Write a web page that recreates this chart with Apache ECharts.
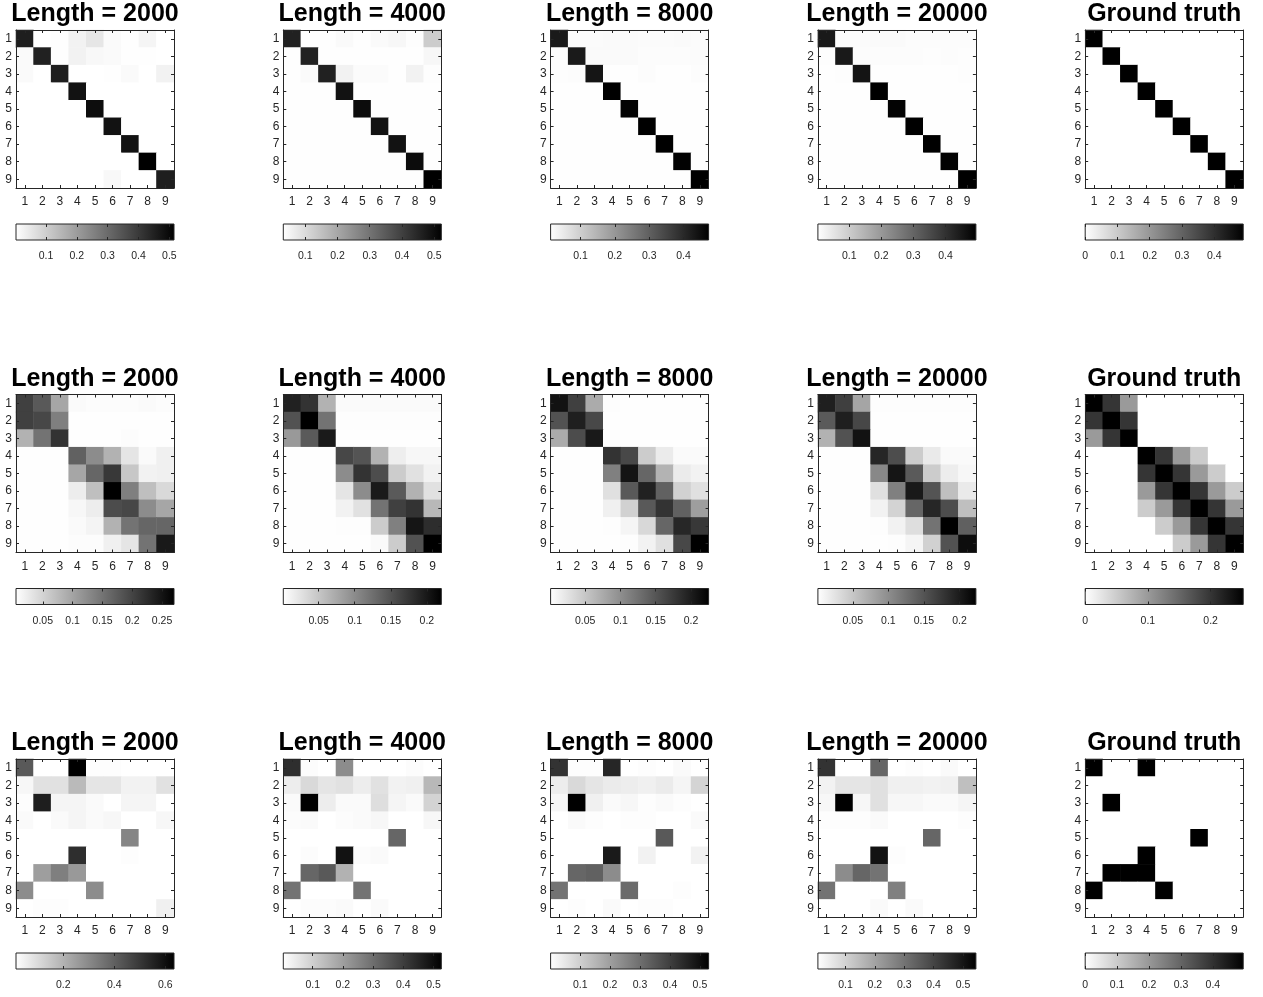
<!DOCTYPE html>
<html>
<head>
<meta charset="utf-8">
<script src="https://cdn.jsdelivr.net/npm/echarts@6/dist/echarts.min.js"></script>
<style>
html,body{margin:0;padding:0;background:#fff;}
#chart{width:1263px;height:997px;}
</style>
</head>
<body>
<div id="chart"></div>
<script>
// ---------- DATA ----------
const cats = ['1','2','3','4','5','6','7','8','9'];
const colTitles = ['Length = 2000', 'Length = 4000', 'Length = 8000', 'Length = 20000', 'Ground truth'];

// colour-bar limits [min, max] for each panel, row by row
const rangesRow1 = [[0.003, 0.515], [0.032, 0.522], [0.013, 0.473], [0.002, 0.495], [0, 0.49]];
const rangesRow2 = [[0.005, 0.27], [0.001, 0.22], [0.001, 0.225], [0.001, 0.223], [0, 0.252]];
const rangesRow3 = [[0.015, 0.634], [0.0025, 0.526], [0.001, 0.529], [0.006, 0.544], [0, 0.495]];

// colour-bar tick labels
const ticksRow1 = [[0.1, 0.2, 0.3, 0.4, 0.5], [0.1, 0.2, 0.3, 0.4, 0.5], [0.1, 0.2, 0.3, 0.4], [0.1, 0.2, 0.3, 0.4], [0, 0.1, 0.2, 0.3, 0.4]];
const ticksRow2 = [[0.05, 0.1, 0.15, 0.2, 0.25], [0.05, 0.1, 0.15, 0.2], [0.05, 0.1, 0.15, 0.2], [0.05, 0.1, 0.15, 0.2], [0, 0.1, 0.2]];
const ticksRow3 = [[0.2, 0.4, 0.6], [0.1, 0.2, 0.3, 0.4, 0.5], [0.1, 0.2, 0.3, 0.4, 0.5], [0.1, 0.2, 0.3, 0.4, 0.5], [0, 0.1, 0.2, 0.3, 0.4]];

// matrices: rows 1..9 (top to bottom), columns 1..9
const r1_len2000 = [
  [0.454, 0.004, 0.005, 0.029, 0.054, 0.013, 0.006, 0.023, 0.004],
  [0.013, 0.448, 0.006, 0.029, 0.018, 0.013, 0.005, 0.005, 0.004],
  [0.013, 0.004, 0.454, 0.004, 0.004, 0.006, 0.013, 0.004, 0.029],
  [0.004, 0.004, 0.004, 0.479, 0.004, 0.004, 0.004, 0.004, 0.004],
  [0.004, 0.004, 0.004, 0.004, 0.489, 0.004, 0.004, 0.004, 0.004],
  [0.004, 0.004, 0.004, 0.004, 0.004, 0.479, 0.004, 0.004, 0.004],
  [0.004, 0.004, 0.004, 0.004, 0.004, 0.004, 0.479, 0.004, 0.004],
  [0.004, 0.004, 0.004, 0.004, 0.004, 0.004, 0.004, 0.515, 0.004],
  [0.004, 0.004, 0.004, 0.004, 0.004, 0.018, 0.004, 0.004, 0.454]
];
const r1_len4000 = [
  [0.458, 0.034, 0.034, 0.042, 0.034, 0.042, 0.047, 0.036, 0.130],
  [0.034, 0.458, 0.034, 0.034, 0.034, 0.034, 0.034, 0.034, 0.047],
  [0.034, 0.042, 0.458, 0.057, 0.040, 0.040, 0.034, 0.057, 0.036],
  [0.033, 0.033, 0.033, 0.488, 0.033, 0.033, 0.033, 0.033, 0.033],
  [0.033, 0.033, 0.033, 0.033, 0.498, 0.033, 0.033, 0.033, 0.033],
  [0.033, 0.033, 0.033, 0.033, 0.033, 0.488, 0.033, 0.033, 0.033],
  [0.033, 0.033, 0.033, 0.033, 0.033, 0.033, 0.488, 0.033, 0.033],
  [0.033, 0.033, 0.033, 0.033, 0.033, 0.033, 0.033, 0.498, 0.033],
  [0.033, 0.033, 0.033, 0.033, 0.033, 0.033, 0.033, 0.033, 0.522]
];
const r1_len8000 = [
  [0.427, 0.020, 0.020, 0.022, 0.022, 0.020, 0.020, 0.022, 0.020],
  [0.016, 0.427, 0.022, 0.022, 0.022, 0.018, 0.018, 0.018, 0.020],
  [0.016, 0.018, 0.436, 0.014, 0.014, 0.018, 0.014, 0.014, 0.018],
  [0.014, 0.014, 0.014, 0.473, 0.014, 0.014, 0.014, 0.014, 0.014],
  [0.014, 0.014, 0.014, 0.014, 0.468, 0.014, 0.014, 0.014, 0.014],
  [0.014, 0.014, 0.014, 0.014, 0.014, 0.473, 0.014, 0.014, 0.014],
  [0.014, 0.014, 0.014, 0.014, 0.014, 0.014, 0.473, 0.014, 0.014],
  [0.014, 0.014, 0.014, 0.014, 0.014, 0.014, 0.014, 0.470, 0.014],
  [0.014, 0.014, 0.014, 0.014, 0.014, 0.014, 0.014, 0.014, 0.473]
];
const r1_len20000 = [
  [0.446, 0.010, 0.010, 0.012, 0.012, 0.007, 0.007, 0.007, 0.007],
  [0.005, 0.446, 0.007, 0.007, 0.007, 0.007, 0.005, 0.007, 0.005],
  [0.003, 0.005, 0.456, 0.003, 0.003, 0.003, 0.003, 0.003, 0.005],
  [0.003, 0.003, 0.003, 0.495, 0.003, 0.003, 0.003, 0.003, 0.003],
  [0.003, 0.003, 0.003, 0.003, 0.490, 0.003, 0.003, 0.003, 0.003],
  [0.003, 0.003, 0.003, 0.003, 0.003, 0.495, 0.003, 0.003, 0.003],
  [0.003, 0.003, 0.003, 0.003, 0.003, 0.003, 0.495, 0.003, 0.003],
  [0.003, 0.003, 0.003, 0.003, 0.003, 0.003, 0.003, 0.492, 0.003],
  [0.003, 0.003, 0.003, 0.003, 0.003, 0.003, 0.003, 0.003, 0.495]
];
const r1_truth = [
  [0.49, 0, 0, 0, 0, 0, 0, 0, 0],
  [0, 0.49, 0, 0, 0, 0, 0, 0, 0],
  [0, 0, 0.49, 0, 0, 0, 0, 0, 0],
  [0, 0, 0, 0.49, 0, 0, 0, 0, 0],
  [0, 0, 0, 0, 0.49, 0, 0, 0, 0],
  [0, 0, 0, 0, 0, 0.49, 0, 0, 0],
  [0, 0, 0, 0, 0, 0, 0.49, 0, 0],
  [0, 0, 0, 0, 0, 0, 0, 0.49, 0],
  [0, 0, 0, 0, 0, 0, 0, 0, 0.49]
];

const r2_len2000 = [
  [0.204, 0.177, 0.098, 0.010, 0.008, 0.008, 0.008, 0.010, 0.008],
  [0.204, 0.196, 0.138, 0.006, 0.006, 0.006, 0.006, 0.006, 0.006],
  [0.085, 0.151, 0.217, 0.006, 0.006, 0.006, 0.008, 0.006, 0.006],
  [0.006, 0.006, 0.006, 0.169, 0.124, 0.085, 0.032, 0.010, 0.021],
  [0.006, 0.006, 0.006, 0.098, 0.164, 0.212, 0.063, 0.018, 0.021],
  [0.006, 0.006, 0.006, 0.024, 0.071, 0.270, 0.138, 0.071, 0.045],
  [0.006, 0.006, 0.006, 0.013, 0.024, 0.191, 0.196, 0.124, 0.098],
  [0.006, 0.006, 0.006, 0.010, 0.016, 0.085, 0.151, 0.164, 0.164],
  [0.006, 0.006, 0.006, 0.008, 0.008, 0.021, 0.032, 0.151, 0.244]
];
const r2_len4000 = [
  [0.192, 0.176, 0.067, 0.005, 0.005, 0.005, 0.005, 0.005, 0.005],
  [0.150, 0.220, 0.121, 0.003, 0.003, 0.003, 0.003, 0.003, 0.003],
  [0.089, 0.143, 0.198, 0.002, 0.002, 0.002, 0.002, 0.002, 0.002],
  [0.002, 0.002, 0.002, 0.159, 0.148, 0.067, 0.016, 0.008, 0.008],
  [0.002, 0.002, 0.002, 0.100, 0.176, 0.154, 0.045, 0.027, 0.012],
  [0.002, 0.002, 0.002, 0.023, 0.100, 0.198, 0.143, 0.067, 0.027],
  [0.002, 0.002, 0.002, 0.012, 0.027, 0.121, 0.165, 0.176, 0.062],
  [0.002, 0.002, 0.002, 0.003, 0.003, 0.045, 0.110, 0.202, 0.181],
  [0.002, 0.002, 0.002, 0.002, 0.002, 0.005, 0.045, 0.150, 0.220]
];
const r2_len8000 = [
  [0.209, 0.169, 0.075, 0.003, 0.002, 0.002, 0.002, 0.002, 0.002],
  [0.153, 0.198, 0.162, 0.002, 0.002, 0.002, 0.002, 0.002, 0.002],
  [0.075, 0.158, 0.203, 0.003, 0.002, 0.002, 0.002, 0.002, 0.002],
  [0.002, 0.002, 0.002, 0.180, 0.162, 0.046, 0.019, 0.005, 0.005],
  [0.002, 0.002, 0.002, 0.113, 0.207, 0.135, 0.068, 0.019, 0.012],
  [0.002, 0.002, 0.002, 0.028, 0.147, 0.196, 0.140, 0.041, 0.028],
  [0.002, 0.002, 0.002, 0.014, 0.041, 0.147, 0.180, 0.140, 0.086],
  [0.002, 0.002, 0.002, 0.003, 0.010, 0.035, 0.135, 0.191, 0.176],
  [0.002, 0.002, 0.002, 0.002, 0.003, 0.012, 0.028, 0.162, 0.225]
];
const r2_len20000 = [
  [0.196, 0.168, 0.079, 0.003, 0.003, 0.003, 0.003, 0.003, 0.003],
  [0.145, 0.196, 0.161, 0.002, 0.002, 0.002, 0.002, 0.002, 0.002],
  [0.068, 0.152, 0.207, 0.002, 0.002, 0.002, 0.002, 0.002, 0.002],
  [0.002, 0.002, 0.002, 0.190, 0.156, 0.045, 0.019, 0.005, 0.005],
  [0.002, 0.002, 0.002, 0.105, 0.205, 0.145, 0.045, 0.017, 0.008],
  [0.002, 0.002, 0.002, 0.028, 0.112, 0.201, 0.150, 0.057, 0.019],
  [0.002, 0.002, 0.002, 0.012, 0.039, 0.134, 0.190, 0.156, 0.057],
  [0.002, 0.002, 0.002, 0.003, 0.012, 0.030, 0.123, 0.223, 0.139],
  [0.002, 0.002, 0.002, 0.002, 0.003, 0.010, 0.041, 0.152, 0.212]
];
const r2_truth = [
  [0.252, 0.2, 0.1, 0, 0, 0, 0, 0, 0],
  [0.2, 0.252, 0.2, 0, 0, 0, 0, 0, 0],
  [0.1, 0.2, 0.252, 0, 0, 0, 0, 0, 0],
  [0, 0, 0, 0.252, 0.2, 0.1, 0.05, 0, 0],
  [0, 0, 0, 0.2, 0.252, 0.2, 0.1, 0.05, 0],
  [0, 0, 0, 0.1, 0.2, 0.252, 0.2, 0.1, 0.05],
  [0, 0, 0, 0.05, 0.1, 0.2, 0.252, 0.2, 0.1],
  [0, 0, 0, 0, 0.05, 0.1, 0.2, 0.252, 0.2],
  [0, 0, 0, 0, 0, 0.05, 0.1, 0.2, 0.252]
];

const r3_len2000 = [
  [0.417, 0.016, 0.016, 0.634, 0.021, 0.021, 0.016, 0.016, 0.016],
  [0.034, 0.089, 0.089, 0.182, 0.077, 0.077, 0.046, 0.046, 0.089],
  [0.021, 0.560, 0.040, 0.040, 0.027, 0.016, 0.040, 0.040, 0.016],
  [0.027, 0.016, 0.027, 0.040, 0.027, 0.034, 0.016, 0.016, 0.034],
  [0.016, 0.016, 0.016, 0.016, 0.016, 0.016, 0.312, 0.016, 0.016],
  [0.016, 0.016, 0.016, 0.523, 0.016, 0.016, 0.021, 0.016, 0.016],
  [0.016, 0.250, 0.325, 0.263, 0.016, 0.016, 0.016, 0.016, 0.016],
  [0.294, 0.016, 0.016, 0.016, 0.294, 0.016, 0.016, 0.016, 0.016],
  [0.016, 0.021, 0.021, 0.016, 0.016, 0.016, 0.016, 0.016, 0.052]
];
const r3_len4000 = [
  [0.432, 0.008, 0.003, 0.238, 0.003, 0.003, 0.003, 0.008, 0.003],
  [0.039, 0.081, 0.055, 0.065, 0.039, 0.065, 0.029, 0.034, 0.149],
  [0.013, 0.526, 0.039, 0.013, 0.013, 0.071, 0.023, 0.013, 0.092],
  [0.008, 0.013, 0.003, 0.008, 0.013, 0.018, 0.003, 0.003, 0.018],
  [0.003, 0.003, 0.003, 0.003, 0.003, 0.003, 0.317, 0.003, 0.003],
  [0.003, 0.008, 0.003, 0.489, 0.008, 0.013, 0.003, 0.003, 0.003],
  [0.003, 0.317, 0.343, 0.160, 0.003, 0.003, 0.003, 0.003, 0.003],
  [0.290, 0.003, 0.003, 0.003, 0.290, 0.003, 0.003, 0.003, 0.003],
  [0.003, 0.008, 0.008, 0.013, 0.003, 0.013, 0.003, 0.003, 0.003]
];
const r3_len8000 = [
  [0.423, 0.006, 0.006, 0.450, 0.002, 0.006, 0.002, 0.012, 0.002],
  [0.038, 0.080, 0.054, 0.043, 0.038, 0.033, 0.043, 0.022, 0.091],
  [0.017, 0.529, 0.033, 0.012, 0.017, 0.006, 0.012, 0.006, 0.002],
  [0.002, 0.012, 0.006, 0.002, 0.006, 0.006, 0.002, 0.002, 0.012],
  [0.002, 0.002, 0.002, 0.002, 0.002, 0.002, 0.344, 0.002, 0.002],
  [0.002, 0.002, 0.002, 0.476, 0.002, 0.027, 0.002, 0.002, 0.027],
  [0.002, 0.318, 0.328, 0.239, 0.002, 0.002, 0.002, 0.002, 0.002],
  [0.291, 0.002, 0.002, 0.002, 0.307, 0.002, 0.002, 0.006, 0.002],
  [0.002, 0.006, 0.002, 0.012, 0.002, 0.006, 0.006, 0.002, 0.002]
];
const r3_len20000 = [
  [0.436, 0.007, 0.007, 0.329, 0.007, 0.011, 0.007, 0.017, 0.007],
  [0.033, 0.060, 0.060, 0.071, 0.038, 0.038, 0.033, 0.038, 0.141],
  [0.022, 0.544, 0.022, 0.071, 0.022, 0.022, 0.017, 0.017, 0.028],
  [0.011, 0.011, 0.011, 0.017, 0.007, 0.007, 0.007, 0.007, 0.011],
  [0.007, 0.007, 0.007, 0.007, 0.007, 0.007, 0.329, 0.007, 0.007],
  [0.007, 0.007, 0.007, 0.506, 0.011, 0.007, 0.007, 0.007, 0.007],
  [0.007, 0.248, 0.329, 0.302, 0.007, 0.007, 0.007, 0.007, 0.007],
  [0.302, 0.007, 0.007, 0.007, 0.275, 0.007, 0.007, 0.007, 0.007],
  [0.007, 0.007, 0.007, 0.017, 0.007, 0.017, 0.007, 0.007, 0.007]
];
const r3_truth = [
  [0.495, 0, 0, 0.495, 0, 0, 0, 0, 0],
  [0, 0, 0, 0, 0, 0, 0, 0, 0],
  [0, 0.495, 0, 0, 0, 0, 0, 0, 0],
  [0, 0, 0, 0, 0, 0, 0, 0, 0],
  [0, 0, 0, 0, 0, 0, 0.495, 0, 0],
  [0, 0, 0, 0.495, 0, 0, 0, 0, 0],
  [0, 0.495, 0.495, 0.495, 0, 0, 0, 0, 0],
  [0.495, 0, 0, 0, 0.495, 0, 0, 0, 0],
  [0, 0, 0, 0, 0, 0, 0, 0, 0]
];

const matrices = [
  [r1_len2000, r1_len4000, r1_len8000, r1_len20000, r1_truth],
  [r2_len2000, r2_len4000, r2_len8000, r2_len20000, r2_truth],
  [r3_len2000, r3_len4000, r3_len8000, r3_len20000, r3_truth]
];
const ranges = [rangesRow1, rangesRow2, rangesRow3];
const ticks = [ticksRow1, ticksRow2, ticksRow3];

// ---------- LAYOUT ----------
const FONT = '"Liberation Sans", Arial, Helvetica, sans-serif';
const AX = '#262626';
const L0 = 16, DX = 267.3, T0 = 30, DY = 364.5, W = 158, H = 158;
const CB_T0 = 224, CB_H = 16;

const option = {
  backgroundColor: '#ffffff',
  animation: false,
  title: [], grid: [], xAxis: [], yAxis: [], series: [], visualMap: []
};

for (let r = 0; r < 3; r++) {
  for (let c = 0; c < 5; c++) {
    const i = r * 5 + c;
    const left = L0 + c * DX;
    const top = T0 + r * DY;
    const [lo, hi] = ranges[r][c];
    const m = matrices[r][c];

    option.title.push({
      text: colTitles[c],
      left: left + W / 2,
      top: 2 + r * DY,
      textAlign: 'center',
      padding: 0,
      textStyle: { fontFamily: FONT, fontSize: 25, fontWeight: 'bold', color: '#000' }
    });

    option.grid.push({ left: left, top: top, width: W, height: H, show: false });
    option.grid.push({ left: left, top: CB_T0 + r * DY, width: W, height: CB_H, show: false });

    const axLine = { show: true, lineStyle: { color: AX, width: 1 } };
    const axTick = { show: true, inside: true, length: 3, alignWithLabel: true, lineStyle: { color: AX, width: 1 } };
    const lbl = { color: AX, fontSize: 12, fontFamily: FONT };

    // heatmap axes
    option.xAxis.push({ type: 'category', gridIndex: 2 * i, data: cats, position: 'bottom', z: 10,
      axisLine: axLine, axisTick: axTick, axisLabel: Object.assign({ margin: 8 }, lbl), splitLine: { show: false } });
    option.xAxis.push({ type: 'category', gridIndex: 2 * i, data: cats, position: 'top', z: 10,
      axisLine: axLine, axisTick: axTick, axisLabel: { show: false }, splitLine: { show: false } });
    // colour-bar axes
    option.xAxis.push({ type: 'value', gridIndex: 2 * i + 1, min: lo, max: hi, position: 'bottom', z: 10,
      axisLine: { show: false },
      axisTick: { show: true, inside: true, length: 3, customValues: ticks[r][c], lineStyle: { color: AX, width: 1 } },
      axisLabel: { color: AX, fontSize: 10.5, fontFamily: FONT, margin: 11, customValues: ticks[r][c] },
      splitLine: { show: false } });
    option.xAxis.push({ type: 'value', gridIndex: 2 * i + 1, min: lo, max: hi, position: 'top', z: 10,
      axisLine: { show: false },
      axisTick: { show: true, inside: true, length: 3, customValues: ticks[r][c], lineStyle: { color: AX, width: 1 } },
      axisLabel: { show: false }, splitLine: { show: false } });

    option.yAxis.push({ type: 'category', gridIndex: 2 * i, data: cats, inverse: true, position: 'left', z: 10,
      axisLine: axLine, axisTick: axTick, axisLabel: Object.assign({ margin: 4 }, lbl), splitLine: { show: false } });
    option.yAxis.push({ type: 'category', gridIndex: 2 * i, data: cats, inverse: true, position: 'right', z: 10,
      axisLine: axLine, axisTick: axTick, axisLabel: { show: false }, splitLine: { show: false } });
    option.yAxis.push({ type: 'value', gridIndex: 2 * i + 1, min: 0, max: 1, show: false });

    const data = [];
    for (let y = 0; y < 9; y++) for (let x = 0; x < 9; x++) data.push([x, y, m[y][x]]);

    option.series.push({
      type: 'heatmap', xAxisIndex: 4 * i, yAxisIndex: 3 * i, data: data,
      itemStyle: { borderWidth: 0 }, emphasis: { disabled: true }, progressive: 0, silent: true
    });
    option.series.push({
      type: 'custom', xAxisIndex: 4 * i + 2, yAxisIndex: 3 * i + 2, silent: true,
      data: [[lo, hi]],
      renderItem: function (params, api) {
        const a = api.coord([api.value(0), 1]);
        const b = api.coord([api.value(1), 0]);
        return {
          type: 'rect',
          shape: { x: a[0], y: a[1], width: b[0] - a[0], height: b[1] - a[1] },
          style: {
            fill: new echarts.graphic.LinearGradient(0, 0, 1, 0, [
              { offset: 0, color: '#ffffff' }, { offset: 1, color: '#000000' }
            ]),
            stroke: AX, lineWidth: 1
          }
        };
      }
    });
    option.visualMap.push({
      type: 'continuous', show: false, seriesIndex: 2 * i, min: lo, max: hi,
      inRange: { color: ['#ffffff', '#000000'] }
    });
  }
}

const chart = echarts.init(document.getElementById('chart'), null, { renderer: 'canvas' });
chart.setOption(option);
</script>
</body>
</html>
